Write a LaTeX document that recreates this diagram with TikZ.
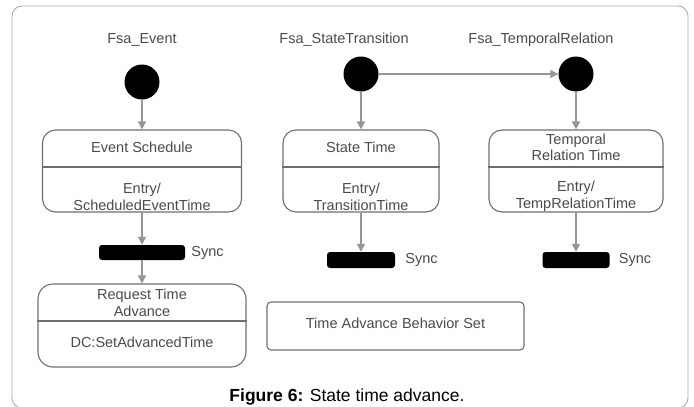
\documentclass[tikz,border=0pt]{standalone}
\usepackage{fontspec}
\setmainfont{Liberation Sans}
\usepackage{xcolor}
\usetikzlibrary{arrows.meta}
\definecolor{framegray}{HTML}{A8A8A8}
\definecolor{boxgray}{HTML}{6E6E6E}
\definecolor{flowgray}{HTML}{959595}
\definecolor{txtgray}{HTML}{4A4A4A}

\begin{document}
\begin{tikzpicture}[x=1pt,y=-1pt,font=\fontsize{14.5}{17}\selectfont,
  initial/.style={circle,fill=black,minimum size=35pt,inner sep=0pt},
  statebox/.style={draw=boxgray,line width=1.1pt,rounded corners=13pt,inner sep=0pt},
  syncbar/.style={fill=black,rounded corners=3pt,minimum height=15pt,inner sep=0pt},
  flow/.style={draw=flowgray,line width=1.5pt,-{Triangle[width=8pt,length=8pt]}},
  lbl/.style={text=txtgray,inner sep=0pt,align=center}]
\useasboundingbox (0,0) rectangle (694,407);
\draw[framegray,line width=0.8pt,rounded corners=10pt] (12,6) rectangle (688,408);
\node[lbl] (fsaev-lbl) at (142,40) {Fsa\_Event};
\node[lbl] (fsast-lbl) at (344,40) {Fsa\_StateTransition};
\node[lbl] (fsatr-lbl) at (541,40) {Fsa\_TemporalRelation};
\node[initial] (fsaev) at (142,82) {};
\node[initial] (fsast) at (361,74) {};
\node[initial] (fsatr) at (576,74) {};
\node[statebox,minimum width=199pt,minimum height=82pt] (evsched) at (142,171) {};
\node[statebox,minimum width=156pt,minimum height=82pt] (sttime) at (361,171) {};
\node[statebox,minimum width=174pt,minimum height=82pt] (trtime) at (576,171) {};
\draw[boxgray,line width=1.1pt] (evsched.west |- 0,167) -- (evsched.east |- 0,167);
\draw[boxgray,line width=1.1pt] (sttime.west |- 0,167) -- (sttime.east |- 0,167);
\draw[boxgray,line width=1.1pt] (trtime.west |- 0,167) -- (trtime.east |- 0,167);
\node[lbl] (evsched-name) at (142,147) {Event Schedule};
\node[lbl] (evsched-act) at (142,196.5) {Entry/\\ScheduledEventTime};
\node[lbl] (sttime-name) at (361,147) {State Time};
\node[lbl] (sttime-act) at (361,196.5) {Entry/\\TransitionTime};
\node[lbl,font=\fontsize{14.5}{16}\selectfont] (trtime-name) at (576,147) {Temporal\\Relation Time};
\node[lbl] (trtime-act) at (576,196.5) {Entry/\\TempRelationTime};
\node[syncbar,minimum width=86pt] (sync1) at (142,252.5) {};
\node[syncbar,minimum width=68pt,minimum height=16pt] (sync2) at (361,260) {};
\node[syncbar,minimum width=67pt,minimum height=16pt] (sync3) at (576,260) {};
\node[lbl,anchor=west] (sync1-lbl) at ([xshift=6pt]sync1.east) {Sync};
\node[lbl,anchor=west] (sync2-lbl) at ([xshift=10pt]sync2.east) {Sync};
\node[lbl,anchor=west] (sync3-lbl) at ([xshift=9pt]sync3.east) {Sync};
\node[statebox,rounded corners=15pt,minimum width=208pt,minimum height=83pt] (reqadv) at (142,325.5) {};
\draw[boxgray,line width=1.1pt] (reqadv.west |- 0,321) -- (reqadv.east |- 0,321);
\node[lbl] (reqadv-name) at (142,302.5) {Request Time\\Advance};
\node[lbl] (reqadv-act) at (142,342) {DC:SetAdvancedTime};
\node[statebox,rounded corners=4pt,minimum width=257pt,minimum height=48pt] (behset) at (395.5,326) {};
\node[lbl] (behset-name) at (395.5,323) {Time Advance Behavior Set};
\draw[flow] (fsaev) -- (evsched);
\draw[flow] (fsast) -- (sttime);
\draw[flow] (fsatr) -- (trtime);
\draw[flow] (fsast) -- (fsatr);
\draw[flow] (evsched) -- (sync1);
\draw[flow] (sync1) -- (reqadv);
\draw[flow] (sttime) -- (sync2);
\draw[flow] (trtime) -- (sync3);
\node[font=\fontsize{17.5}{20}\selectfont] (caption) at (347,397) {\textbf{Figure 6:} State time advance.};
\end{tikzpicture}
\end{document}
